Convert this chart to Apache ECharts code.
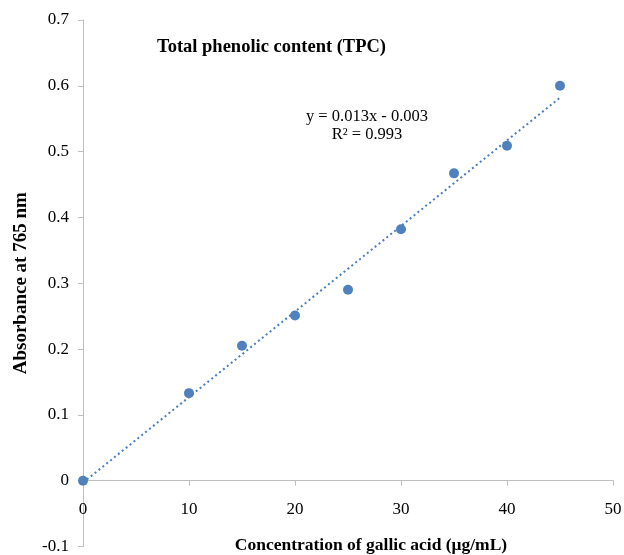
<!DOCTYPE html>
<html>
<head>
<meta charset="utf-8">
<script src="https://cdn.jsdelivr.net/npm/echarts@6/dist/echarts.min.js"></script>
<style>
  html, body { margin: 0; padding: 0; background: #fff; }
  #main { width: 624px; height: 555px; }
</style>
</head>
<body>
<div id="main"></div>
<script>
// 数据：浓度 (μg/mL) 和吸光度
var concentration = [0, 10, 15, 20, 25, 30, 35, 40, 45];
var absorbance = [0, 0.133, 0.205, 0.251, 0.290, 0.382, 0.467, 0.509, 0.600];
// 趋势线两端 (y = 0.013x - 0.003)
var trendX = [0, 45];
var trendY = [-0.003, 0.582];
var equationText = ['y = 0.013x - 0.003', 'R² = 0.993'];
var yMin = -0.1, yMax = 0.7;

var serif = '"Liberation Serif", "DejaVu Serif", serif';
var chart = echarts.init(document.getElementById('main'));

var gridTop = 20, gridBottom = 8.5;
var gridHeight = 555 - gridTop - gridBottom;
// x 轴放在 y = 0 处
var xAxisOffset = -(0 - yMin) / (yMax - yMin) * gridHeight;

var option = {
  animation: false,
  backgroundColor: '#fff',
  grid: { left: 83, right: 11, top: gridTop, bottom: gridBottom, containLabel: false, outerBoundsMode: 'none' },
  title: {
    text: 'Total phenolic content (TPC)',
    left: 152, top: 33,
    textStyle: { fontFamily: serif, fontSize: 18.5, fontWeight: 'bold', color: '#000' }
  },
  xAxis: {
    type: 'value',
    min: 0, max: 50, interval: 10,
    position: 'bottom',
    offset: xAxisOffset,
    name: 'Concentration of gallic acid (μg/mL)',
    nameLocation: 'middle',
    nameGap: 56,
    nameTextStyle: { fontFamily: serif, fontSize: 17.5, fontWeight: 'bold', color: '#000', padding: [0, 0, 0, 46] },
    axisLine: { onZero: false, lineStyle: { color: '#bfbfbf', width: 1 } },
    axisTick: { show: true, length: 5, lineStyle: { color: '#bfbfbf' } },
    axisLabel: { margin: 20, fontFamily: serif, fontSize: 17, color: '#000' },
    splitLine: { show: false }
  },
  yAxis: {
    type: 'value',
    min: yMin, max: yMax, interval: 0.1,
    name: 'Absorbance at 765 nm',
    nameLocation: 'middle',
    nameGap: 52,
    nameTextStyle: { fontFamily: serif, fontSize: 19, fontWeight: 'bold', color: '#000' },
    axisLine: { show: true, lineStyle: { color: '#bfbfbf', width: 1 } },
    axisTick: { show: true, length: 5, lineStyle: { color: '#bfbfbf' } },
    axisLabel: {
      margin: 14, fontFamily: serif, fontSize: 17, color: '#000',
      formatter: function (v) { return String(+v.toFixed(1)); }
    },
    splitLine: { show: false }
  },
  graphic: [{
    type: 'text',
    x: 367, y: 108,
    style: {
      text: equationText.join('\n'),
      align: 'center',
      verticalAlign: 'top',
      font: '16.5px ' + serif,
      lineHeight: 18,
      fill: '#000'
    }
  }],
  series: [
    {
      name: 'trend',
      type: 'line',
      data: trendX.map(function (x, i) { return [x, trendY[i]]; }),
      showSymbol: false,
      symbol: 'none',
      lineStyle: { color: '#4a7ebb', width: 2, type: [2, 3] },
      z: 1
    },
    {
      name: 'TPC',
      type: 'scatter',
      data: concentration.map(function (x, i) { return [x, absorbance[i]]; }),
      symbolSize: 10,
      itemStyle: { color: '#4f81bd', opacity: 1 },
      z: 2
    }
  ]
};
chart.setOption(option);
</script>
</body>
</html>
